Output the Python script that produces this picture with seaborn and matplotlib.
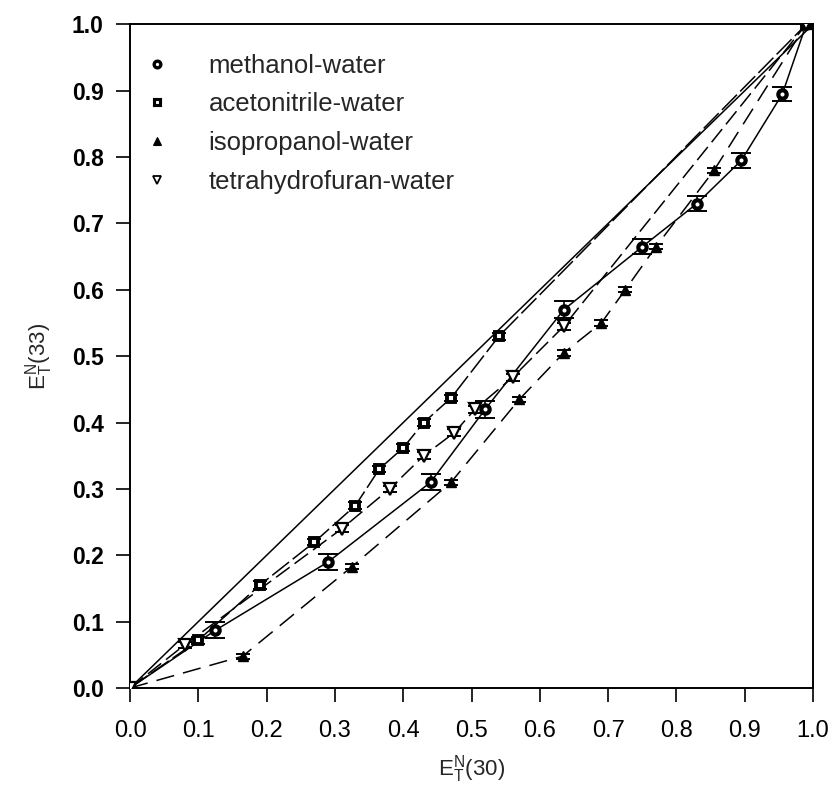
import numpy as np
import pandas as pd
import matplotlib
matplotlib.use('Agg')
import matplotlib.pyplot as plt
import seaborn as sns
from matplotlib.lines import Line2D

# ---- data ----
series_names = ['methanol-water', 'acetonitrile-water', 'isopropanol-water', 'tetrahydrofuran-water']

meoh_x = [0.0, 0.125, 0.29, 0.44, 0.52, 0.635, 0.75, 0.83, 0.895, 0.955, 0.99]
meoh_y = [0.0, 0.087, 0.19, 0.31, 0.42, 0.57, 0.665, 0.73, 0.795, 0.895, 1.0]
meoh_e = [0.0, 0.012, 0.012, 0.012, 0.013, 0.013, 0.011, 0.011, 0.011, 0.011, 0.0]

acn_x = [0.0, 0.10, 0.19, 0.27, 0.33, 0.365, 0.40, 0.43, 0.47, 0.54, 0.99]
acn_y = [0.0, 0.072, 0.155, 0.22, 0.275, 0.33, 0.362, 0.40, 0.437, 0.53, 1.0]
acn_e = [0.0, 0.005, 0.006, 0.005, 0.005, 0.005, 0.005, 0.005, 0.005, 0.005, 0.0]

ipa_x = [0.0, 0.165, 0.325, 0.47, 0.57, 0.635, 0.69, 0.725, 0.77, 0.855, 0.99]
ipa_y = [0.0, 0.048, 0.183, 0.31, 0.435, 0.505, 0.55, 0.60, 0.665, 0.78, 1.0]
ipa_e = [0.0, 0.004, 0.004, 0.004, 0.004, 0.004, 0.004, 0.004, 0.004, 0.004, 0.0]

thf_x = [0.0, 0.08, 0.31, 0.38, 0.43, 0.475, 0.505, 0.56, 0.635, 0.99]
thf_y = [0.0, 0.065, 0.24, 0.30, 0.35, 0.385, 0.42, 0.468, 0.545, 1.0]
thf_e = [0.0, 0.005, 0.005, 0.005, 0.005, 0.005, 0.005, 0.005, 0.005, 0.0]

diag_x = [0.0, 1.0]
diag_y = [0.0, 1.0]

x_ticks = [0.0, 0.1, 0.2, 0.3, 0.4, 0.5, 0.6, 0.7, 0.8, 0.9, 1.0]
y_ticks = [0.0, 0.1, 0.2, 0.3, 0.4, 0.5, 0.6, 0.7, 0.8, 0.9, 1.0]

frames = []
for name, xs, ys, es in zip(series_names,
                            [meoh_x, acn_x, ipa_x, thf_x],
                            [meoh_y, acn_y, ipa_y, thf_y],
                            [meoh_e, acn_e, ipa_e, thf_e]):
    frames.append(pd.DataFrame({'x': xs, 'y': ys, 'err': es, 'series': name}))
df = pd.concat(frames, ignore_index=True)

styles = {
    'methanol-water': dict(marker='o', mfc='white', mec='black', mew=3.0, ms=6.0,
                           dashes=None, cap=7.5),
    'acetonitrile-water': dict(marker='s', mfc='white', mec='black', mew=2.8, ms=5.2,
                               dashes=(14, 3), cap=5),
    'isopropanol-water': dict(marker='^', mfc='black', mec='black', mew=1.0, ms=7.5,
                              dashes=(12, 6), cap=5),
    'tetrahydrofuran-water': dict(marker='v', mfc='white', mec='black', mew=1.6, ms=8.0,
                                  dashes=(11, 4), cap=5),
}

sns.set_theme(style='ticks')
plt.rcParams['font.family'] = ['Liberation Sans', 'DejaVu Sans']
plt.rcParams['mathtext.fontset'] = 'custom'
plt.rcParams['mathtext.rm'] = 'Liberation Sans'
plt.rcParams['mathtext.it'] = 'Liberation Sans'

fig = plt.figure(figsize=(8.34, 7.91), dpi=100)
ax = fig.add_axes([0.1559, 0.1302, 0.819, 0.839])

# diagonal reference line
sns.lineplot(x=diag_x, y=diag_y, ax=ax, color='black', linewidth=1.1, legend=False)

for name in series_names:
    sub = df[df['series'] == name]
    st = styles[name]
    sns.lineplot(data=sub, x='x', y='y', ax=ax, color='black', linewidth=1.1,
                 estimator=None, sort=False, legend=False)
    ln = ax.lines[-1]
    if st['dashes'] is not None:
        ln.set_dashes(st['dashes'])
    ax.errorbar(sub['x'], sub['y'], yerr=sub['err'], fmt='none', ecolor='black',
                elinewidth=1.2, capsize=st['cap'], capthick=1.4, zorder=3)
    ax.plot(sub['x'], sub['y'], linestyle='none', marker=st['marker'],
            mfc=st['mfc'], mec=st['mec'], mew=st['mew'], ms=st['ms'], zorder=4)

ax.set_xlim(0, 1.0)
ax.set_ylim(0, 1.0)
ax.set_xticks(x_ticks)
ax.set_yticks(y_ticks)
ax.set_xticklabels([f'{t:.1f}' for t in x_ticks], fontsize=17)
ax.set_yticklabels([f'{t:.1f}' for t in y_ticks], fontsize=16.5, fontweight='bold')
ax.tick_params(axis='both', direction='out', length=10, width=1.2, color='black',
               labelcolor='black')
ax.tick_params(axis='x', pad=13)
ax.tick_params(axis='y', pad=9)
for sp in ax.spines.values():
    sp.set_visible(True)
    sp.set_color('black')
    sp.set_linewidth(1.4)

ax.set_xlabel(r'$\mathregular{E_T^N(30)}$', fontsize=16, labelpad=8)
ax.set_ylabel(r'$\mathregular{E_T^N(33)}$', fontsize=16, labelpad=12)

handles = []
for name in series_names:
    st = styles[name]
    handles.append(Line2D([], [], linestyle='none', marker=st['marker'], mfc=st['mfc'],
                          mec=st['mec'], mew=st['mew'] * 0.8, ms=st['ms'] * 0.8))
leg = ax.legend(handles, series_names, loc='upper left', bbox_to_anchor=(0.021, 0.956),
                frameon=False, fontsize=18.5, handletextpad=1.5, labelspacing=0.58,
                handlelength=1.0, borderpad=0, borderaxespad=0)

fig.savefig('out.png', dpi=100)
